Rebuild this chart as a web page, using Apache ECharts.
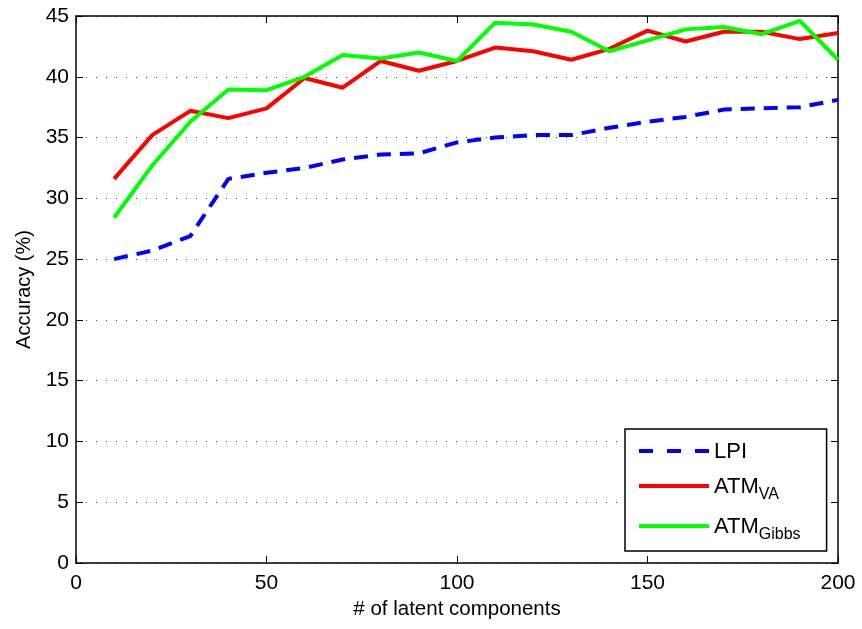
<!DOCTYPE html>
<html>
<head>
<meta charset="utf-8">
<script src="https://cdn.jsdelivr.net/npm/echarts@6/dist/echarts.min.js"></script>
<style>
  html, body { margin: 0; padding: 0; background: #fff; }
  #main { width: 862px; height: 629px; }
</style>
</head>
<body>
<div id="main"></div>
<script>
// latent components (x)
const components = [10, 20, 30, 40, 50, 60, 70, 80, 90, 100, 110, 120, 130, 140, 150, 160, 170, 180, 190, 200];
// accuracy values
const lpi = [25.0, 25.7, 26.9, 31.6, 32.1, 32.5, 33.2, 33.6, 33.7, 34.6, 35.0, 35.2, 35.2, 35.8, 36.3, 36.7, 37.3, 37.4, 37.5, 38.1];
const atmVA = [31.6, 35.2, 37.2, 36.6, 37.4, 39.9, 39.1, 41.3, 40.5, 41.3, 42.4, 42.1, 41.4, 42.3, 43.8, 42.9, 43.7, 43.7, 43.1, 43.6];
const atmGibbs = [28.4, 32.7, 36.3, 38.95, 38.9, 40.0, 41.8, 41.5, 42.0, 41.3, 44.45, 44.3, 43.7, 42.1, 43.0, 43.9, 44.1, 43.5, 44.6, 41.4];

const font = 'Liberation Sans, Arial, Helvetica, sans-serif';

function pairs(ys) {
  return components.map((x, i) => [x, ys[i]]);
}

// legend icons: thick line, dashed one for LPI
const solidIcon = 'path://M0,0h70v4h-70z';
const dashIcon = 'path://M0,0h14v4h-14z M28,0h14v4h-14z M56,0h14v4h-14z';

const chart = echarts.init(document.getElementById('main'));

// frame + inward ticks
const frameLine = { show: true, onZero: false, lineStyle: { color: '#000', width: 1.5 } };
const inTicks = { show: true, inside: true, length: 7, lineStyle: { color: '#000', width: 1 } };

chart.setOption({
  animation: false,
  backgroundColor: '#fff',
  grid: { left: 76, right: 24, top: 16, bottom: 66, containLabel: false },
  legend: {
    orient: 'vertical',
    left: 625,
    top: 429,
    padding: [10, 26, 8, 14],
    itemGap: 11,
    itemWidth: 70,
    itemHeight: 4,
    borderColor: '#000',
    borderWidth: 1.5,
    backgroundColor: '#fff',
    data: [
      { name: 'LPI', icon: dashIcon, itemStyle: { color: '#0000ff' } },
      { name: 'ATM_VA', icon: solidIcon, itemStyle: { color: '#ff0000' } },
      { name: 'ATM_Gibbs', icon: solidIcon, itemStyle: { color: '#00ff00' } }
    ],
    formatter: function (name) {
      if (name === 'LPI') return '{m|LPI}';
      const parts = name.split('_');
      return '{m|' + parts[0] + '}{s|' + parts[1] + '}';
    },
    textStyle: {
      color: '#000',
      fontFamily: font,
      rich: {
        m: { fontSize: 22, fontFamily: font, color: '#000', lineHeight: 24, verticalAlign: 'top', padding: [2, 0, 0, 0] },
        s: { fontSize: 16, fontFamily: font, color: '#000', lineHeight: 24, verticalAlign: 'top', padding: [13, 0, 0, 0] }
      }
    }
  },
  xAxis: [
    {
      type: 'value',
      min: 0,
      max: 200,
      interval: 50,
      name: '# of latent components',
      nameLocation: 'middle',
      nameGap: 35,
      nameTextStyle: { fontFamily: font, fontSize: 20.5, color: '#000' },
      axisLine: frameLine,
      axisTick: inTicks,
      axisLabel: { fontFamily: font, fontSize: 21, color: '#000', margin: 10 },
      splitLine: { show: false }
    },
    {
      type: 'value',
      position: 'top',
      min: 0,
      max: 200,
      interval: 50,
      axisLine: frameLine,
      axisTick: inTicks,
      axisLabel: { show: false },
      splitLine: { show: false }
    }
  ],
  yAxis: [
    {
      type: 'value',
      min: 0,
      max: 45,
      interval: 5,
      name: 'Accuracy (%)',
      nameLocation: 'middle',
      nameGap: 42,
      nameTextStyle: { fontFamily: font, fontSize: 20, color: '#000' },
      axisLine: frameLine,
      axisTick: inTicks,
      axisLabel: { fontFamily: font, fontSize: 21, color: '#000', margin: 7 },
      splitLine: { show: true, lineStyle: { color: '#444', width: 1, type: [1, 9] } }
    },
    {
      type: 'value',
      position: 'right',
      min: 0,
      max: 45,
      interval: 5,
      axisLine: frameLine,
      axisTick: inTicks,
      axisLabel: { show: false },
      splitLine: { show: false }
    }
  ],
  series: [
    {
      name: 'LPI',
      type: 'line',
      data: pairs(lpi),
      symbol: 'none',
      lineStyle: { color: '#0000ff', width: 4, type: [14, 9] },
      itemStyle: { color: '#0000ff' },
      z: 3
    },
    {
      name: 'ATM_VA',
      type: 'line',
      data: pairs(atmVA),
      symbol: 'none',
      lineStyle: { color: '#ff0000', width: 4 },
      itemStyle: { color: '#ff0000' },
      z: 4
    },
    {
      name: 'ATM_Gibbs',
      type: 'line',
      data: pairs(atmGibbs),
      symbol: 'none',
      lineStyle: { color: '#00ff00', width: 4 },
      itemStyle: { color: '#00ff00' },
      z: 5
    }
  ]
});
</script>
</body>
</html>
